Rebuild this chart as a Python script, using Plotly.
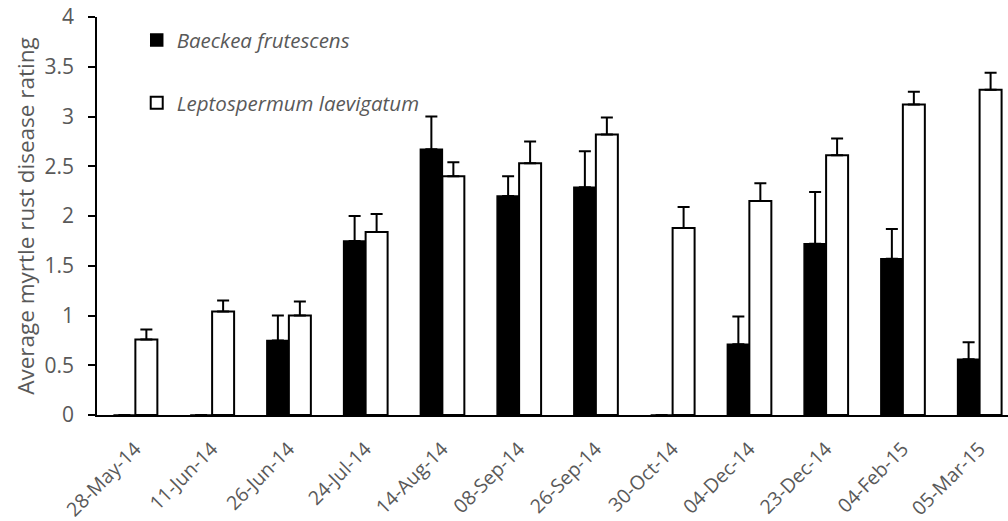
import plotly.graph_objects as go

dates = ["28-May-14", "11-Jun-14", "26-Jun-14", "24-Jul-14", "14-Aug-14", "08-Sep-14",
         "26-Sep-14", "30-Oct-14", "04-Dec-14", "23-Dec-14", "04-Feb-15", "05-Mar-15"]
baeckea = [0, 0, 0.75, 1.75, 2.67, 2.20, 2.29, 0, 0.71, 1.72, 1.57, 0.56]
baeckea_err = [None, None, 0.25, 0.25, 0.33, 0.20, 0.36, None, 0.28, 0.52, 0.30, 0.17]
lepto = [0.76, 1.04, 1.00, 1.84, 2.40, 2.53, 2.82, 1.88, 2.15, 2.61, 3.12, 3.27]
lepto_err = [0.10, 0.11, 0.14, 0.18, 0.14, 0.22, 0.17, 0.21, 0.18, 0.17, 0.13, 0.17]

nan = float("nan")
def clean(a):
    return [nan if v is None else v for v in a]

gray = "#595959"
font_family = "Open Sans, Calibri, sans-serif"

fig = go.Figure()
fig.add_trace(go.Bar(
    x=dates, y=baeckea, name="Baeckea frutescens",
    marker=dict(color="black", line=dict(color="black", width=1.5)),
    error_y=dict(type="data", array=clean(baeckea_err), arrayminus=[0]*12, symmetric=False,
                 color="black", thickness=2, width=6),
    legend="legend", showlegend=True,
))
fig.add_trace(go.Bar(
    x=dates, y=lepto, name="Leptospermum laevigatum",
    marker=dict(color="white", line=dict(color="black", width=2)),
    error_y=dict(type="data", array=lepto_err, arrayminus=[0]*12, symmetric=False,
                 color="black", thickness=2, width=6),
    legend="legend2", showlegend=True,
))

fig.update_layout(
    width=1008, height=521,
    margin=dict(l=97, r=0, t=17, b=106),
    paper_bgcolor="white", plot_bgcolor="white",
    barmode="group", bargap=0.427, bargroupgap=0,
    showlegend=True,
    font=dict(family=font_family, color=gray),
    legend=dict(x=0.0436, y=0.942, xanchor="left", yanchor="middle",
                font=dict(size=20.5, color=gray, style="italic"),
                bgcolor="rgba(0,0,0,0)"),
    legend2=dict(x=0.0436, y=0.784, xanchor="left", yanchor="middle",
                 font=dict(size=20.5, color=gray, style="italic"),
                 bgcolor="rgba(0,0,0,0)"),
    xaxis=dict(
        type="category", range=[-0.5, 11.37],
        showline=True, linecolor="black", linewidth=1.5,
        ticks="", tickangle=-45, tickfont=dict(size=19.5, color=gray),
        ticklabelstandoff=13,
        showgrid=False, zeroline=False,
    ),
    yaxis=dict(
        range=[0, 4], dtick=0.5,
        showline=True, linecolor="black", linewidth=1.5,
        ticks="outside", ticklen=7, tickcolor="black", tickwidth=1.5,
        tickfont=dict(size=21, color=gray), ticklabelstandoff=10,
        showgrid=False, zeroline=False,
        title=dict(text="Average myrtle rust disease rating", font=dict(size=22.5, color=gray), standoff=4),
    ),
)

fig.write_html("out.html")
